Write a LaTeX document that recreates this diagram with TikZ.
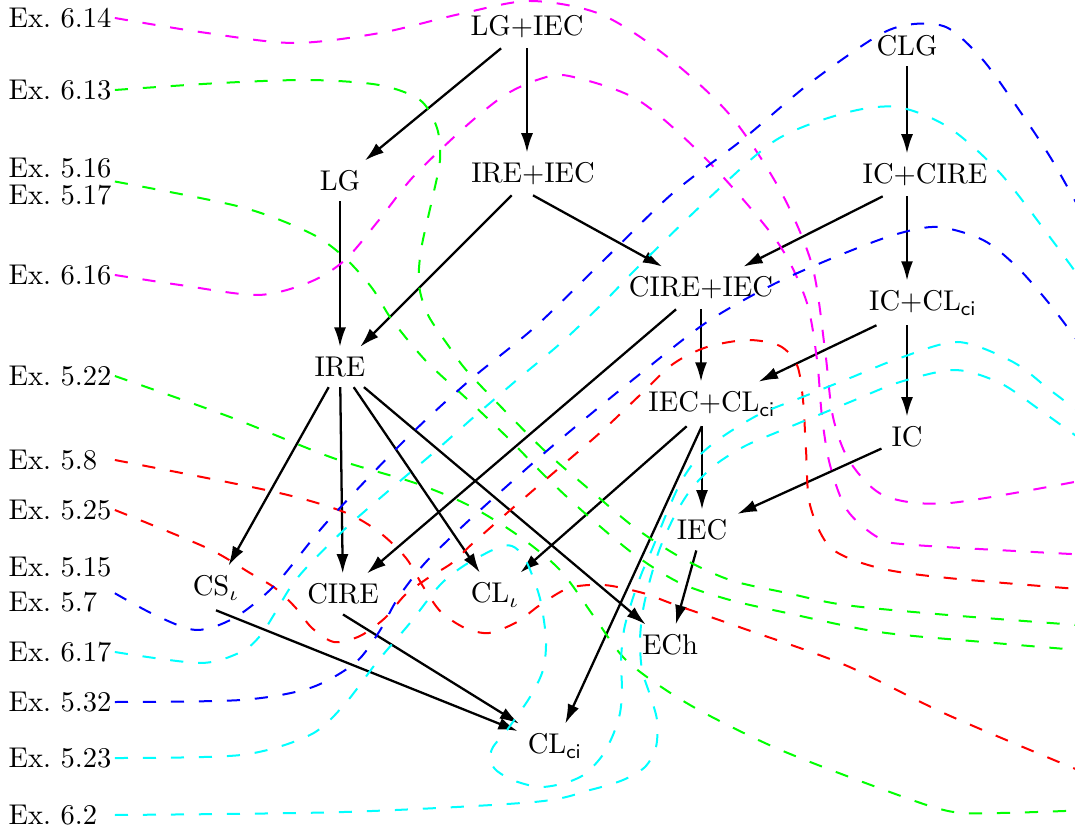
\documentclass[tikz,border=0pt]{standalone}
\usepackage{amsmath}
\usepackage{xcolor}
\usepackage{tikz}
\usetikzlibrary{arrows, arrows.meta, calc}
\definecolor{exmagenta}{rgb}{1,0,1}
\definecolor{excyan}{rgb}{0,1,1}
\definecolor{exgreen}{rgb}{0,1,0}
\definecolor{exblue}{rgb}{0,0,1}
\definecolor{exred}{rgb}{1,0,0}
\tikzstyle{notion}  = [inner sep=3.33pt, text centered]
\tikzstyle{exlabel} = [anchor=west, text width=37pt, align=left, inner xsep=0pt]
\tikzstyle{arrow}   = [thick,->,>={Latex[length=6.8pt,width=4.2pt]}]
\tikzstyle{exline}  = [line width=0.7pt, dash pattern=on 4.6pt off 5.2pt]

\begin{document}
\begin{tikzpicture}[x=0.35pt, y=-0.35pt]
    \useasboundingbox (0,0) rectangle (1075,835);
    \clip (0,0) rectangle (1075,835);

    \node (lgiec)   [notion] at (527,27)  {LG+IEC};
    \node (lg)      [notion] at (340,181) {LG};
    \node (ireiec)  [notion] at (533,174) {IRE+IEC};
    \node (ire)     [notion] at (340,367) {IRE};
    \node (clg)     [notion] at (907,46)  {CLG};
    \node (iccire)  [notion] at (925,175) {IC+CIRE};
    \node (cireiec) [notion] at (701,288) {CIRE+IEC};
    \node (iccl)    [notion] at (923,303) {IC+CL$_{\mathsf{ci}}$};
    \node (ieccl)   [notion] at (712,404) {IEC+CL$_{\mathsf{ci}}$};
    \node (ic)      [notion] at (907,437) {IC};
    \node (iec)     [notion] at (702,530) {IEC};
    \node (csi)     [notion] at (216,588) {CS$_\iota$};
    \node (cire)    [notion] at (343,594) {CIRE};
    \node (cli)     [notion] at (495,595) {CL$_\iota$};
    \node (ech)     [notion] at (670,645) {ECh};
    \node (clci)    [notion] at (555,746) {CL$_{\mathsf{ci}}$};

    \node (e614) [exlabel] at (8,18)  {Ex.\ 6.14};
    \node (e613) [exlabel] at (8,90)  {Ex.\ 6.13};
    \node (e516) [exlabel] at (8,168) {Ex.\ 5.16};
    \node (e517) [exlabel] at (8,195) {Ex.\ 5.17};
    \node (e616) [exlabel] at (8,275) {Ex.\ 6.16};
    \node (e522) [exlabel] at (8,376) {Ex.\ 5.22};
    \node (e58)  [exlabel] at (8,460) {Ex.\ 5.8};
    \node (e525) [exlabel] at (8,510) {Ex.\ 5.25};
    \node (e515) [exlabel] at (8,567) {Ex.\ 5.15};
    \node (e57)  [exlabel] at (8,602) {Ex.\ 5.7};
    \node (e617) [exlabel] at (8,652) {Ex.\ 6.17};
    \node (e532) [exlabel] at (8,702) {Ex.\ 5.32};
    \node (e523) [exlabel] at (8,758) {Ex.\ 5.23};
    \node (e62)  [exlabel] at (8,815) {Ex.\ 6.2};
    \coordinate (s516) at ($(e516.east)!.5!(e517.east)$);
    \coordinate (s57)  at ($(e515.east)!.75!(e57.east)$);

    \draw [arrow] (lgiec) -- (lg);
    \draw [arrow] (lgiec) -- (ireiec.north -| lgiec);
    \draw [arrow] (lg) -- (ire);
    \draw [arrow] (ireiec) -- (ire);
    \draw [arrow] (ireiec.south) -- (cireiec);
    \draw [arrow] (clg) -- (iccire.north -| clg);
    \draw [arrow] (iccire) -- (cireiec);
    \draw [arrow] (iccire.south -| clg) -- (iccl.north -| clg);
    \draw [arrow] (cireiec) -- (ieccl.north -| cireiec);
    \draw [arrow] (cireiec) -- (cire);
    \draw [arrow] (iccl) -- (ieccl);
    \draw [arrow] (iccl.south -| clg) -- (ic);
    \draw [arrow] (ire) -- (csi);
    \draw [arrow] (ire) -- (cire);
    \draw [arrow] (ire) -- (cli);
    \draw [arrow] (ire) -- (ech);
    \draw [arrow] (ieccl) -- (cli);
    \draw [arrow] (ieccl) -- (clci);
    \draw [arrow] (ieccl.south -| iec) -- (iec);
    \draw [arrow] (ic) -- (iec);
    \draw [arrow] (iec) -- (ech);
    \draw [arrow] (csi.south) -- (clci);
    \draw [arrow] (cire.south) -- (clci);

    % examples
    \draw [exline, exmagenta] plot [smooth] coordinates {(e614.east) (200,32) (293,43) (380,33) (460,14) (530,1) (600,14) (665,55) (730,115) (780,190) (812,265) (825,350) (833,417) (850,462) (885,496) (950,503) (1090,479)};
    \draw [exline, exmagenta] plot [smooth] coordinates {(e616.east) (180,285) (258,295) (310,282) (345,260) (379,220) (413,177) (465,127) (505,95) (540,79) (569,76) (638,100) (707,160) (776,240) (806,300) (817,360) (822,417) (830,465) (847,510) (879,538) (914,545) (1090,555)};
    \draw [exline, exgreen] plot [smooth] coordinates {(e613.east) (220,83) (310,80) (379,85) (420,100) (437,128) (440,160) (432,200) (421,250) (419,285) (428,315) (450,348) (467,371) (506,412) (546,452) (590,490) (634,527) (680,557) (730,580) (787,593) (845,605) (948,615) (1090,626)};
    \draw [exline, exgreen] plot [smooth] coordinates {(s516) (241,207) (310,233) (344,257) (372,288) (392,320) (426,361) (467,399) (509,439) (548,479) (588,516) (635,555) (680,583) (730,600) (787,613) (879,632) (983,642) (1090,651)};
    \draw [exline, exgreen] plot [smooth] coordinates {(e522.east) (230,417) (333,458) (415,483) (468,505) (516,534) (560,570) (595,618) (628,662) (690,705) (776,748) (879,788) (948,811) (1000,813) (1090,810)};
    \draw [exline, exred] plot [smooth] coordinates {(e58.east) (275,492) (344,512) (379,532) (406,558) (424,588) (441,612) (465,628) (489,633) (517,622) (540,605) (569,588) (604,585) (643,593) (673,604) (742,628) (845,665) (948,715) (1090,775)};
    \draw [exline, exred] plot [smooth] coordinates {(e525.east) (207,548) (250,573) (275,588) (295,607) (312,628) (334,642) (360,636) (385,618) (405,595) (428,578) (452,563) (472,544) (515,506) (558,469) (602,431) (640,395) (673,364) (707,347) (748,340) (780,346) (797,365) (803,400) (806,450) (810,505) (831,548) (879,568) (948,578) (1090,590)};
    \draw [exline, exblue] plot [smooth] coordinates {(s57) (155,615) (196,630) (234,618) (275,585) (327,522) (407,438) (470,380) (535,327) (604,260) (673,193) (742,140) (810,83) (879,35) (914,24) (948,28) (983,60) (1017,107) (1052,160) (1090,228)};
    \draw [exline, exblue] plot [smooth] coordinates {(e532.east) (241,700) (310,688) (355,663) (379,632) (398,598) (425,563) (465,524) (507,486) (549,449) (592,413) (640,374) (707,322) (776,283) (845,253) (897,234) (938,227) (983,240) (1017,267) (1052,307) (1090,358)};
    \draw [exline, excyan] plot [smooth] coordinates {(e617.east) (200,663) (241,652) (260,636) (275,613) (290,588) (307,567) (347,527) (393,487) (432,454) (475,416) (518,379) (562,342) (604,302) (638,267) (707,200) (776,140) (845,113) (897,107) (948,127) (1000,173) (1052,240) (1090,292)};
    \draw [exline, excyan] plot [smooth] coordinates {(e523.east) (241,755) (310,735) (344,705) (377,662) (410,623) (440,585) (465,565) (497,548) (512,546) (524,557) (534,580) (541,603) (546,640) (543,670) (530,697) (507,730) (493,747) (490,760) (497,771) (515,781) (540,787) (565,783) (585,774) (602,756) (613,735) (620,713) (622,690) (621,660) (624,630) (631,604) (641,575) (653,547) (668,510) (682,480) (700,455) (725,435) (760,414) (800,398) (850,378) (900,358) (958,342) (1013,362) (1050,390) (1090,420)};
    \draw [exline, excyan] plot [smooth] coordinates {(e62.east) (344,812) (534,802) (590,790) (623,780) (645,767) (656,747) (657,720) (650,695) (642,670) (640,640) (643,610) (650,580) (660,548) (675,515) (692,488) (715,465) (745,446) (780,431) (850,402) (900,382) (955,370) (1000,383) (1040,410) (1090,446)};
\end{tikzpicture}
\end{document}
